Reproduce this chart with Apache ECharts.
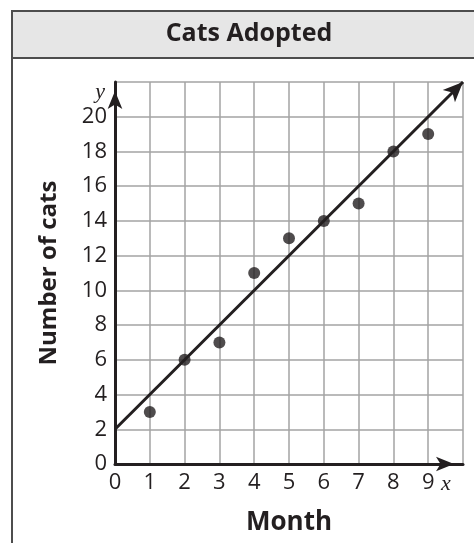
<!DOCTYPE html>
<html><head><meta charset="utf-8">
<style>html,body{margin:0;padding:0;background:#fff}#c{width:474px;height:543px}</style>
<script src="https://cdn.jsdelivr.net/npm/echarts@6/dist/echarts.min.js"></script>
</head><body><div id="c"></div>
<script>
const titleText = 'Cats Adopted';
const xTitle = 'Month';
const yTitle = 'Number of cats';
const months = [1, 2, 3, 4, 5, 6, 7, 8, 9];
const cats = [3, 6, 7, 11, 13, 14, 15, 18, 19];
const lineStart = [0, 2];
const lineEnd = [10, 22];
const xTicks = ['0','1','2','3','4','5','6','7','8','9'];
const yTicks = ['0','2','4','6','8','10','12','14','16','18','20'];

const ink = '#231f20';
const font = '"Open Sans", "Noto Sans", sans-serif';
const serif = '"Liberation Serif", "DejaVu Serif", serif';
const chart = echarts.init(document.getElementById('c'));
chart.setOption({
  animation: false,
  backgroundColor: '#fff',
  graphic: [
    {type:'rect', shape:{x:12, y:11, width:480, height:47}, style:{fill:'#e6e6e6', stroke:'#4d4d4d', lineWidth:2}, z:-1},
    {type:'line', shape:{x1:12, y1:58, x2:12, y2:560}, style:{stroke:'#4d4d4d', lineWidth:2}},
    {type:'text', x:249, y:34, style:{text:titleText, font:'bold 25px ' + font, fill:ink, textAlign:'center', textVerticalAlign:'middle'}}
  ],
  grid: {left:115, top:82, right:11, bottom:79},
  xAxis: [{
    type:'value', min:0, max:10, interval:1,
    name: xTitle, nameLocation:'middle', nameGap:46, nameMoveOverlap:false,
    nameTextStyle:{fontFamily:font, fontWeight:'bold', fontSize:26, color:ink},
    axisLine:{show:true, onZero:false, lineStyle:{color:ink, width:3}, symbol:['none','arrow'], symbolSize:[11,18], symbolOffset:[0,-9]},
    axisTick:{show:false},
    axisLabel:{margin:8, fontFamily:font, fontSize:22, color:ink, formatter:(v)=> xTicks.includes(String(v)) ? String(v) : ''},
    splitLine:{show:true, lineStyle:{color:'#a3a3a3', width:1.5}}
  },{
    type:'value', min:0, max:10, interval:1, position:'bottom',
    name:'x', nameLocation:'end', nameGap:-22,
    nameTextStyle:{fontFamily:serif, fontStyle:'italic', fontSize:22, color:ink, align:'left', verticalAlign:'top', padding:[9,0,0,0]},
    axisLine:{show:false}, axisTick:{show:false}, axisLabel:{show:false}, splitLine:{show:false}
  }],
  yAxis: [{
    type:'value', min:0, max:22, interval:2,
    name: yTitle, nameLocation:'middle', nameGap:54, nameMoveOverlap:false,
    nameTextStyle:{fontFamily:font, fontWeight:'bold', fontSize:24, color:ink},
    axisLine:{show:true, onZero:false, lineStyle:{color:ink, width:3}, symbol:['none','arrow'], symbolSize:[11,18], symbolOffset:[0,-9]},
    axisTick:{show:false},
    axisLabel:{margin:8, fontFamily:font, fontSize:22, color:ink, formatter:(v)=> yTicks.includes(String(v)) ? String(v) : ''},
    splitLine:{show:true, lineStyle:{color:'#a3a3a3', width:1.5}}
  },{
    type:'value', min:0, max:22, interval:2, position:'left',
    name:'y', nameLocation:'end', nameGap:-21,
    nameTextStyle:{fontFamily:serif, fontStyle:'italic', fontSize:22, color:ink, align:'right', padding:[0,10,0,0]},
    axisLine:{show:false}, axisTick:{show:false}, axisLabel:{show:false}, splitLine:{show:false}
  }],
  series: [{
    type:'scatter',
    data: months.map((m,i)=>[m, cats[i]]),
    symbol:'circle', symbolSize:12,
    itemStyle:{color:ink},
    z:5,
    markLine:{
      silent:true, symbol:['none','arrow'], symbolSize:[13,20],
      label:{show:false},
      lineStyle:{color:ink, width:3, type:'solid'},
      data:[[{coord:lineStart},{coord:lineEnd}]]
    }
  }]
});
</script></body></html>
